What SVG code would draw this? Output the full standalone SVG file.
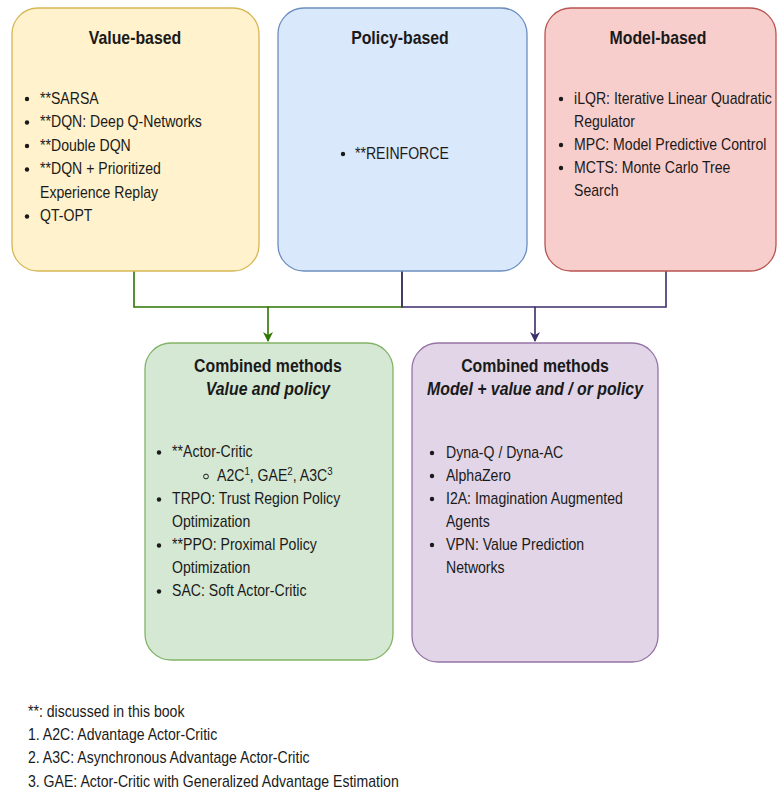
<svg xmlns="http://www.w3.org/2000/svg" width="778" height="795" viewBox="0 0 778 795">
<defs>
<style>
.box{stroke-width:1.3}
.t{font-family:"Liberation Sans",Arial,sans-serif;fill:#1a1a1a}
.title{font-size:18px;font-weight:bold;text-anchor:middle}
.sub{font-size:18px;font-weight:bold;font-style:italic;text-anchor:middle}
.li{font-size:16px}
.fn{font-size:16px}
.bul{fill:#1a1a1a}
.ln{fill:none;stroke-width:1.6}
</style>
<marker id="ag" viewBox="0 0 10 10" refX="9" refY="5" markerWidth="11" markerHeight="10" markerUnits="userSpaceOnUse" orient="auto"><path d="M0,0 L10,5 L0,10 L3,5 Z" fill="#2d7600"/></marker>
<marker id="ap" viewBox="0 0 10 10" refX="9" refY="5" markerWidth="11" markerHeight="10" markerUnits="userSpaceOnUse" orient="auto"><path d="M0,0 L10,5 L0,10 L3,5 Z" fill="#3c2d6b"/></marker>
</defs>
<rect width="778" height="795" fill="#ffffff"/>

<g id="connectors">
<path class="ln" stroke="#2d7600" d="M134,271 V307 H268 V341" marker-end="url(#ag)"/>
<path class="ln" stroke="#2d7600" d="M402,271 V307 H268"/>
<path class="ln" stroke="#3c2d6b" d="M666,271 V307 H535 V341" marker-end="url(#ap)"/>
<path class="ln" stroke="#3c2d6b" d="M402,271 V307 H535"/>
</g>

<g id="value-based">
<rect class="box" x="12" y="8" width="247" height="263" rx="26" fill="#fff2cc" stroke="#d6b656"/>
<circle class="bul" cx="27" cy="99" r="2.2"/>
<circle class="bul" cx="27" cy="122.5" r="2.2"/>
<circle class="bul" cx="27" cy="146" r="2.2"/>
<circle class="bul" cx="27" cy="169.5" r="2.2"/>
<circle class="bul" cx="27" cy="216.5" r="2.2"/>
<g transform="scale(0.88 1)">
<text class="t title" x="153.4" y="44">Value-based</text>
<text class="t li" x="45.5" y="104">**SARSA</text>
<text class="t li" x="45.5" y="127.5">**DQN: Deep Q-Networks</text>
<text class="t li" x="45.5" y="151">**Double DQN</text>
<text class="t li" x="45.5" y="174.5">**DQN + Prioritized</text>
<text class="t li" x="45.5" y="198">Experience Replay</text>
<text class="t li" x="45.5" y="221.5">QT-OPT</text>
</g>
</g>

<g id="policy-based">
<rect class="box" x="278" y="8" width="249" height="263" rx="26" fill="#dae8fc" stroke="#6c8ebf"/>
<circle class="bul" cx="343" cy="154" r="2.2"/>
<g transform="scale(0.88 1)">
<text class="t title" x="454.5" y="44">Policy-based</text>
<text class="t li" x="403.4" y="159.5">**REINFORCE</text>
</g>
</g>

<g id="model-based">
<rect class="box" x="545" y="8" width="231" height="263" rx="26" fill="#f8cecc" stroke="#b85450"/>
<circle class="bul" cx="561" cy="99" r="2.2"/>
<circle class="bul" cx="561" cy="145" r="2.2"/>
<circle class="bul" cx="561" cy="168" r="2.2"/>
<g transform="scale(0.88 1)">
<text class="t title" x="747.7" y="44">Model-based</text>
<text class="t li" x="652.3" y="104">iLQR: Iterative Linear Quadratic</text>
<text class="t li" x="652.3" y="127">Regulator</text>
<text class="t li" x="652.3" y="150">MPC: Model Predictive Control</text>
<text class="t li" x="652.3" y="173">MCTS: Monte Carlo Tree</text>
<text class="t li" x="652.3" y="196">Search</text>
</g>
</g>

<g id="combined-value-policy">
<rect class="box" x="145" y="343" width="248" height="317" rx="26" fill="#d5e8d4" stroke="#82b366"/>
<circle class="bul" cx="159" cy="452.5" r="2.2"/>
<circle cx="206" cy="476.5" r="2.4" fill="none" stroke="#1a1a1a" stroke-width="1"/>
<circle class="bul" cx="159" cy="499.5" r="2.2"/>
<circle class="bul" cx="159" cy="545.5" r="2.2"/>
<circle class="bul" cx="159" cy="591.5" r="2.2"/>
<g transform="scale(0.88 1)">
<text class="t title" x="304.5" y="372">Combined methods</text>
<text class="t sub" x="304.5" y="395">Value and policy</text>
<text class="t li" x="195.5" y="457.5">**Actor-Critic</text>
<text class="t li" x="246.6" y="481.5">A2C<tspan dy="-6" font-size="11">1</tspan><tspan dy="6">, GAE</tspan><tspan dy="-6" font-size="11">2</tspan><tspan dy="6">, A3C</tspan><tspan dy="-6" font-size="11">3</tspan></text>
<text class="t li" x="195.5" y="504.5">TRPO: Trust Region Policy</text>
<text class="t li" x="195.5" y="527.5">Optimization</text>
<text class="t li" x="195.5" y="550.5">**PPO: Proximal Policy</text>
<text class="t li" x="195.5" y="573.5">Optimization</text>
<text class="t li" x="195.5" y="596.5">SAC: Soft Actor-Critic</text>
</g>
</g>

<g id="combined-model">
<rect class="box" x="412" y="343" width="246" height="319" rx="26" fill="#e1d5e7" stroke="#9673a6"/>
<circle class="bul" cx="432" cy="453" r="2.2"/>
<circle class="bul" cx="432" cy="476" r="2.2"/>
<circle class="bul" cx="432" cy="499" r="2.2"/>
<circle class="bul" cx="432" cy="545" r="2.2"/>
<g transform="scale(0.88 1)">
<text class="t title" x="608" y="372">Combined methods</text>
<text class="t sub" x="608" y="395">Model + value and / or policy</text>
<text class="t li" x="506.8" y="458.5">Dyna-Q / Dyna-AC</text>
<text class="t li" x="506.8" y="481.5">AlphaZero</text>
<text class="t li" x="506.8" y="504.5">I2A: Imagination Augmented</text>
<text class="t li" x="506.8" y="527.5">Agents</text>
<text class="t li" x="506.8" y="550.5">VPN: Value Prediction</text>
<text class="t li" x="506.8" y="573.5">Networks</text>
</g>
</g>

<g id="footnotes" transform="scale(0.88 1)">
<text class="t fn" x="31.8" y="717.5">**: discussed in this book</text>
<text class="t fn" x="31.8" y="740.5">1. A2C: Advantage Actor-Critic</text>
<text class="t fn" x="31.8" y="763.5">2. A3C: Asynchronous Advantage Actor-Critic</text>
<text class="t fn" x="31.8" y="787">3. GAE: Actor-Critic with Generalized Advantage Estimation</text>
</g>
</svg>
